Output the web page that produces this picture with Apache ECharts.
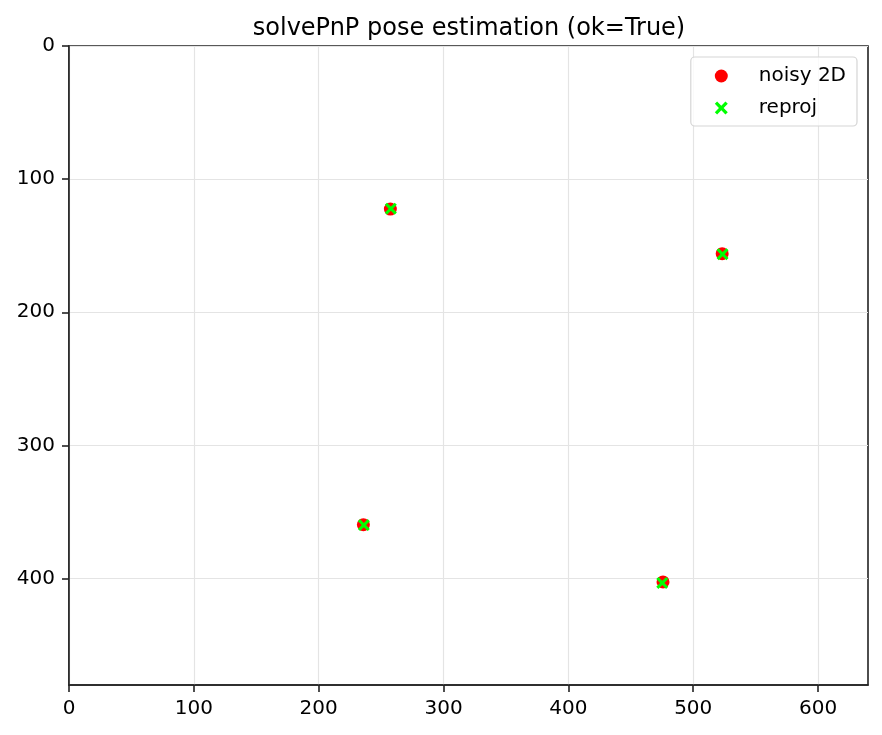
<!DOCTYPE html>
<html>
<head>
<meta charset="utf-8">
<script src="https://cdn.jsdelivr.net/npm/echarts@6/dist/echarts.min.js"></script>
<style>
html, body { margin: 0; padding: 0; background: #fff; }
#main { width: 882px; height: 735px; }
</style>
</head>
<body>
<div id="main"></div>
<script>
// 图像坐标 (像素)
var noisyPts = [[257.4, 122.5], [523.2, 156.0], [235.8, 359.6], [475.8, 402.6]];
var reprojPts = [[257.8, 122.2], [523.5, 156.4], [236.2, 359.9], [475.2, 403.3]];
var xTicks = [0, 100, 200, 300, 400, 500, 600];
var yTicks = [0, 100, 200, 300, 400];

var crossPath = 'path://M0,1.8L1.8,0L5,3.2L8.2,0L10,1.8L6.8,5L10,8.2L8.2,10L5,6.8L1.8,10L0,8.2L3.2,5Z';
var font = 'DejaVu Sans';

var myChart = echarts.init(document.getElementById('main'));
var option = {
    backgroundColor: '#ffffff',
    animation: false,
    title: {
        text: 'solvePnP pose estimation (ok=True)',
        left: 464,
        textAlign: 'center',
        top: 12,
        textStyle: {color: '#000', fontSize: 24, fontWeight: 'normal', fontFamily: font}
    },
    grid: {
        left: 69, right: 14, top: 46, bottom: 50,
        show: true, borderColor: '#222', borderWidth: 1.6, backgroundColor: 'transparent'
    },
    legend: {
        orient: 'vertical',
        right: 25,
        top: 57,
        padding: [9, 11, 8, 24],
        itemGap: 12,
        itemWidth: 13,
        itemHeight: 13,
        backgroundColor: 'rgba(255,255,255,0.8)',
        borderColor: '#d5d5d5',
        borderWidth: 1.2,
        borderRadius: 4,
        textStyle: {color: '#000', fontSize: 20, lineHeight: 20, fontFamily: font, padding: [0, 0, 0, 26]},
        data: [
            {name: 'noisy 2D', icon: 'circle'},
            {name: 'reproj', icon: crossPath}
        ]
    },
    xAxis: {
        type: 'value',
        min: 0, max: 640, interval: 100,
        axisLine: {show: true, onZero: false, lineStyle: {color: '#222', width: 1.6}},
        axisTick: {show: true, length: 7, customValues: xTicks, lineStyle: {color: '#222', width: 1.6}},
        axisLabel: {
            color: '#000', fontSize: 20, fontFamily: font, margin: 14,
            customValues: xTicks
        },
        splitLine: {show: true, lineStyle: {color: '#e4e4e4', width: 1.2}}
    },
    yAxis: {
        type: 'value',
        inverse: true,
        min: 0, max: 480, interval: 100,
        axisLine: {show: true, onZero: false, lineStyle: {color: '#222', width: 1.6}},
        axisTick: {show: true, length: 7, customValues: yTicks, lineStyle: {color: '#222', width: 1.6}},
        axisLabel: {
            color: '#000', fontSize: 20, fontFamily: font, margin: 14,
            customValues: yTicks
        },
        splitLine: {show: true, lineStyle: {color: '#e4e4e4', width: 1.2}}
    },
    series: [
        {
            name: 'noisy 2D',
            type: 'scatter',
            symbol: 'circle',
            symbolSize: 13,
            itemStyle: {color: '#ff0000', opacity: 1},
            data: noisyPts
        },
        {
            name: 'reproj',
            type: 'scatter',
            symbol: crossPath,
            symbolSize: 12,
            itemStyle: {color: '#00ff00', opacity: 1},
            data: reprojPts
        }
    ]
};
myChart.setOption(option);
</script>
</body>
</html>
